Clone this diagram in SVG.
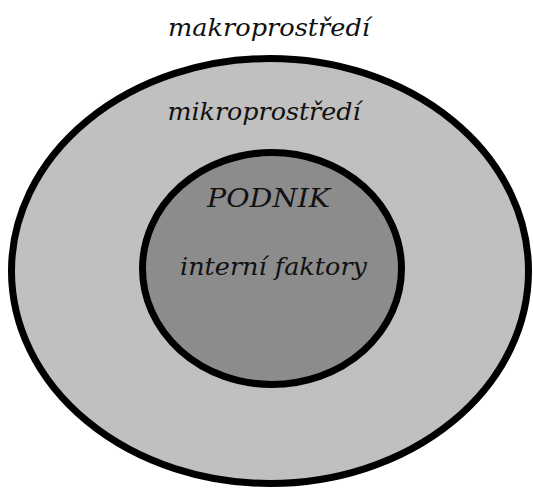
<svg xmlns="http://www.w3.org/2000/svg" width="533" height="488" viewBox="0 0 533 488">
<style>
.ring{stroke:#000;stroke-width:7}
.lbl{font-family:"DejaVu Serif","Liberation Serif",serif;font-style:italic;fill:#111;text-anchor:middle}
</style>
<rect width="533" height="488" fill="#fff"/>
<g id="makroprostredi">
<text class="lbl" x="269" y="36" font-size="24" textLength="202" lengthAdjust="spacingAndGlyphs">makroprostředí</text>
</g>
<g id="mikroprostredi">
<ellipse class="ring" cx="270" cy="271" rx="258.5" ry="212.5" fill="#c0c0c0"/>
<text class="lbl" x="264" y="120" font-size="24" textLength="193" lengthAdjust="spacingAndGlyphs">mikroprostředí</text>
</g>
<g id="podnik">
<ellipse class="ring" cx="272" cy="268.5" rx="129.5" ry="116" fill="#8c8c8c"/>
<text class="lbl" x="268.5" y="207" font-size="26" textLength="123" lengthAdjust="spacingAndGlyphs">PODNIK</text>
<text class="lbl" x="273.5" y="275" font-size="25" textLength="187" lengthAdjust="spacingAndGlyphs">interní faktory</text>
</g>
<g id="connectors"/>
</svg>
